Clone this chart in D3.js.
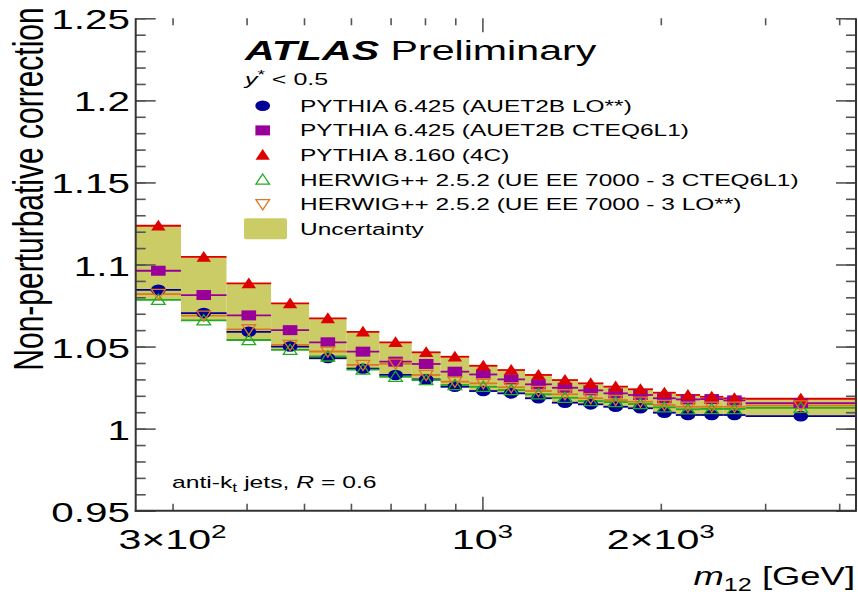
<!DOCTYPE html>
<html><head><meta charset="utf-8">
<script src="https://cdn.jsdelivr.net/npm/d3@7"></script>
<style>
html,body{margin:0;padding:0;background:#fff;}
svg{display:block;font-family:"Liberation Sans",Arial,Helvetica,sans-serif;}
</style></head>
<body>
<svg id="chart" width="858" height="595"></svg>
<script>
// ---------- data ----------
const binEdges = [260,310,370,440,510,590,670,760,850,950,1060,1180,1310,1450,1600,1760,1940,2120,2330,2550,2780,4270];
const pythia6LO =   [1.0846,1.0704,1.0590,1.0500,1.0430,1.0365,1.0327,1.0300,1.0255,1.0229,1.0215,1.0185,1.0158,1.0148,1.0133,1.0124,1.0097,1.0083,1.0083,1.0083,1.0076];
const pythia6CTEQ = [1.0962,1.0814,1.0690,1.0600,1.0526,1.0469,1.0408,1.0394,1.0347,1.0330,1.0300,1.0270,1.0249,1.0233,1.0215,1.0205,1.0185,1.0178,1.0180,1.0172,1.0156];
const pythia8 =     [1.1236,1.1046,1.0885,1.0763,1.0672,1.0590,1.0526,1.0465,1.0438,1.0383,1.0357,1.0327,1.0296,1.0276,1.0256,1.0240,1.0219,1.0205,1.0194,1.0185,1.0182];
const herwigCTEQ =  [1.0785,1.0660,1.0540,1.0480,1.0440,1.0360,1.0316,1.0296,1.0266,1.0255,1.0235,1.0209,1.0188,1.0168,1.0162,1.0150,1.0130,1.0118,1.0120,1.0120,1.0127];
const herwigLO =    [1.0820,1.0688,1.0605,1.0510,1.0470,1.0388,1.0395,1.0327,1.0286,1.0276,1.0252,1.0229,1.0209,1.0185,1.0174,1.0164,1.0144,1.0133,1.0133,1.0133,1.0141];
const bandLo =      [1.0785,1.0660,1.0540,1.0480,1.0420,1.0360,1.0316,1.0296,1.0255,1.0229,1.0215,1.0185,1.0158,1.0148,1.0133,1.0124,1.0097,1.0083,1.0083,1.0083,1.0076];
const bandHi =      [1.1236,1.1046,1.0885,1.0763,1.0672,1.0590,1.0526,1.0465,1.0438,1.0383,1.0357,1.0327,1.0296,1.0276,1.0256,1.0240,1.0219,1.0205,1.0194,1.0185,1.0182];
const seriesNames = ["PYTHIA 6.425 (AUET2B LO**)","PYTHIA 6.425 (AUET2B CTEQ6L1)","PYTHIA 8.160 (4C)","HERWIG++ 2.5.2 (UE EE 7000 - 3 CTEQ6L1)","HERWIG++ 2.5.2 (UE EE 7000 - 3 LO**)"];
const bandName = "Uncertainty";
const yTickLabels = ["0.95","1","1.05","1.1","1.15","1.2","1.25"];
const yTickVals = [0.95,1.0,1.05,1.1,1.15,1.2,1.25];
const xLabelVals = [300,1000,2000];
const xLabelBase = ["3\u00d710","10","2\u00d710"];
const xLabelExp = ["2","3","3"];
const xMinorTicks = [300,400,500,600,700,800,900,2000,3000,4000];
const xMajorTicks = [1000];

// ---------- layout ----------
const SX = 1.47;           // horizontal stretch of the original picture
const L = 135.7, R = 856, T = 18.3, B = 510.7;
const FONT = '"Liberation Sans",Arial,Helvetica,sans-serif';

const svg = d3.select("#chart");
const x = d3.scaleLog().domain([260, 4270]).range([L, R]);
const y = d3.scaleLinear().domain([0.95, 1.25]).range([B, T]);

const colors = ["#000099","#990099","#dd0000","#22aa22","#dd7722"];
const bandColor = "#cccc66";

function stext(g, tx, ty, sx, size, anchor) {
  return g.append("text")
    .attr("transform", `translate(${tx},${ty}) scale(${sx},1)`)
    .attr("font-size", size).attr("text-anchor", anchor || "start")
    .attr("fill", "#000").attr("font-family", FONT);
}

// ---------- band ----------
const bins = d3.range(binEdges.length - 1).map(i => ({
  x0: binEdges[i], x1: binEdges[i+1], xc: Math.sqrt(binEdges[i]*binEdges[i+1]), i
}));
const gPlot = svg.append("g");
gPlot.selectAll("rect.band").data(bins).join("rect").attr("class","band")
  .attr("x", d => x(d.x0)).attr("width", d => x(d.x1) - x(d.x0))
  .attr("y", d => y(bandHi[d.i])).attr("height", d => y(bandLo[d.i]) - y(bandHi[d.i]))
  .attr("fill", bandColor);

// ---------- markers ----------
function marker(g, type, cx, cy, color) {
  if (type === "circle") {
    g.append("ellipse").attr("cx", cx).attr("cy", cy).attr("rx", 7.4).attr("ry", 5.3).attr("fill", color);
  } else if (type === "square") {
    g.append("rect").attr("x", cx - 7.3).attr("y", cy - 5).attr("width", 14.6).attr("height", 10).attr("fill", color);
  } else if (type === "tri") {
    g.append("path").attr("d", `M${cx},${cy-6}L${cx+7.2},${cy+4.8}L${cx-7.2},${cy+4.8}Z`).attr("fill", color);
  } else if (type === "otri") {
    g.append("path").attr("d", `M${cx},${cy-5.6}L${cx+6.8},${cy+4.6}L${cx-6.8},${cy+4.6}Z`)
      .attr("fill", "none").attr("stroke", color).attr("stroke-width", 1.3);
  } else if (type === "odtri") {
    g.append("path").attr("d", `M${cx},${cy+5.6}L${cx+6.8},${cy-4.6}L${cx-6.8},${cy-4.6}Z`)
      .attr("fill", "none").attr("stroke", color).attr("stroke-width", 1.3);
  }
}
const types = ["circle","square","tri","otri","odtri"];
const allSeries = [pythia6LO, pythia6CTEQ, pythia8, herwigCTEQ, herwigLO];
allSeries.forEach((vals, s) => {
  const g = gPlot.append("g");
  g.selectAll("line").data(bins).join("line")
    .attr("x1", d => x(d.x0)).attr("x2", d => x(d.x1))
    .attr("y1", d => y(vals[d.i])).attr("y2", d => y(vals[d.i]))
    .attr("stroke", colors[s]).attr("stroke-width", 1.8);
});
allSeries.forEach((vals, s) => {
  const g = gPlot.append("g");
  bins.forEach(d => marker(g, types[s], x(d.xc), y(vals[d.i]), colors[s]));
});

// ---------- axes ----------
const axCol = "#333";
const yMinor = d3.range(0.95, 1.2501, 0.01).map(v => +v.toFixed(2));
function styleAxis(g) {
  g.select(".domain").remove();
  g.selectAll(".tick line").attr("stroke", "#555").attr("stroke-width", 1.6);
  g.selectAll(".tick text").remove();
}
// left
svg.append("g").attr("transform", `translate(${L},0)`)
  .call(d3.axisRight(y).tickValues(yMinor).tickSize(10)).call(styleAxis);
svg.append("g").attr("transform", `translate(${L},0)`)
  .call(d3.axisRight(y).tickValues(yTickVals).tickSize(20)).call(styleAxis);
// right
svg.append("g").attr("transform", `translate(${R},0)`)
  .call(d3.axisLeft(y).tickValues(yMinor).tickSize(10)).call(styleAxis);
svg.append("g").attr("transform", `translate(${R},0)`)
  .call(d3.axisLeft(y).tickValues(yTickVals).tickSize(20)).call(styleAxis);
// bottom
svg.append("g").attr("transform", `translate(0,${B})`)
  .call(d3.axisTop(x).tickValues(xMinorTicks).tickSize(7)).call(styleAxis);
svg.append("g").attr("transform", `translate(0,${B})`)
  .call(d3.axisTop(x).tickValues(xMajorTicks).tickSize(14)).call(styleAxis);
// top
svg.append("g").attr("transform", `translate(0,${T})`)
  .call(d3.axisBottom(x).tickValues(xMinorTicks).tickSize(7)).call(styleAxis);
svg.append("g").attr("transform", `translate(0,${T})`)
  .call(d3.axisBottom(x).tickValues(xMajorTicks).tickSize(14)).call(styleAxis);
// frame
svg.append("line").attr("x1", L).attr("x2", L).attr("y1", T).attr("y2", B+1).attr("stroke", axCol).attr("stroke-width", 2);
svg.append("line").attr("x1", L-1).attr("x2", R).attr("y1", B).attr("y2", B).attr("stroke", axCol).attr("stroke-width", 2);
svg.append("line").attr("x1", R).attr("x2", R).attr("y1", T).attr("y2", B+1).attr("stroke", axCol).attr("stroke-width", 2);

// tick labels
const gl = svg.append("g");
yTickVals.forEach((v, i) => stext(gl, 130, y(v) + 11, SX, 27.5, "end").text(yTickLabels[i]));
xLabelVals.forEach((v, i) => {
  const t = stext(gl, x(v), 549, SX, 28, "middle");
  t.append("tspan").text(xLabelBase[i]);
  t.append("tspan").attr("dy", -11).attr("font-size", 19).text(xLabelExp[i]);
});

// axis titles
svg.append("text")
  .attr("transform", `translate(43.3,189) scale(1.42,1) rotate(-90)`)
  .attr("font-size", 30).attr("text-anchor", "middle").attr("font-family", FONT)
  .text("Non-perturbative correction");
{
  const t = stext(svg, 855, 585, 1.4, 26, "end");
  t.append("tspan").attr("font-style", "italic").text("m");
  t.append("tspan").attr("dy", 6).attr("font-size", 18).text("12");
  t.append("tspan").attr("dy", -6).text(" [GeV]");
}

// ATLAS label
{
  const t = stext(svg, 245, 60, SX, 28, "start");
  t.append("tspan").attr("font-weight", "bold").attr("font-style", "italic").text("ATLAS");
  t.append("tspan").text(" Preliminary");
}
{
  const t = stext(svg, 245, 85, SX, 17, "start");
  t.append("tspan").attr("font-style", "italic").text("y");
  t.append("tspan").attr("dy", -6).attr("font-size", 13).text("*");
  t.append("tspan").attr("dy", 6).text(" < 0.5");
}
{
  const t = stext(svg, 172, 488, SX, 16.8, "start");
  t.append("tspan").text("anti-k");
  t.append("tspan").attr("dy", 4).attr("font-size", 12).text("t");
  t.append("tspan").attr("dy", -4).text("  jets, ");
  t.append("tspan").attr("font-style", "italic").text("R");
  t.append("tspan").text(" = 0.6");
}

// legend
const gLeg = svg.append("g");
const legX = 262.7, legY0 = 105.8, legDy = 24.6;
seriesNames.forEach((name, s) => {
  const cy = legY0 + s * legDy;
  marker(gLeg, types[s], legX, cy, colors[s]);
  stext(gLeg, 300, cy + 5.9, 1.44, 17, "start").text(name);
});
{
  const cy = legY0 + 5 * legDy;
  gLeg.append("rect").attr("x", 244).attr("y", cy - 10.5).attr("width", 43).attr("height", 21)
    .attr("rx", 2).attr("fill", bandColor);
  stext(gLeg, 300, cy + 5.9, 1.44, 17, "start").text(bandName);
}
</script>
</body></html>
